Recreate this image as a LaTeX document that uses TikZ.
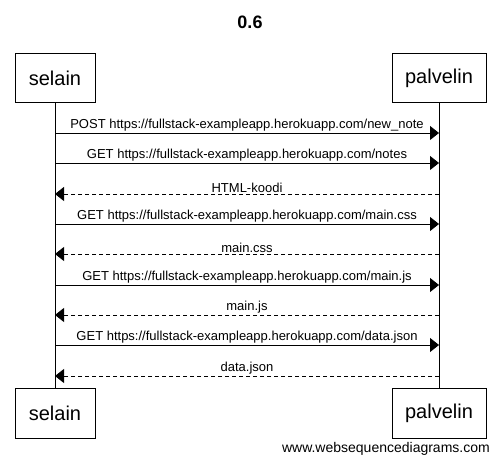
\documentclass[tikz,border=0pt]{standalone}
\usepackage{fontspec}
\setmainfont{Liberation Sans}
\usetikzlibrary{arrows.meta,positioning,calc}

\tikzset{
  actor/.style={draw, line width=1pt, minimum height=49pt, inner sep=0pt, font=\fontsize{20}{24}\selectfont},
  msg/.style={line width=0.8pt, -{Triangle[length=9pt,width=14pt]}},
  reply/.style={msg, dash pattern=on 4pt off 3pt},
  lbl/.style={midway, above, inner sep=1pt, font=\fontsize{13}{15}\selectfont}
}

\begin{document}
\begin{tikzpicture}[x=1pt, y=-1pt]
    \useasboundingbox (0,0) rectangle (501,462);

    % Title
    \node[font=\fontsize{18}{22}\selectfont\bfseries] (title) at (250,22) {0.6};

    % Participants
    \node[actor, minimum width=80pt] (selTop) at (55,78.5) {selain};
    \node[actor, minimum width=94pt] (palTop) at (439,78.5) {palvelin};
    \node[actor, minimum width=80pt] (selBot) at (55,413.5) {selain};
    \node[actor, minimum width=94pt] (palBot) at (439,413.5) {palvelin};

    % Lifelines
    \draw[line width=0.8pt] (selTop) -- (selBot);
    \draw[line width=0.8pt] (palTop) -- (palBot);

    % Messages
    \coordinate (s1) at (55,133);  \coordinate (p1) at (439,133);
    \coordinate (s2) at (55,163);  \coordinate (p2) at (439,163);
    \coordinate (s3) at (55,194);  \coordinate (p3) at (439,194);
    \coordinate (s4) at (55,224);  \coordinate (p4) at (439,224);
    \coordinate (s5) at (55,254);  \coordinate (p5) at (439,254);
    \coordinate (s6) at (55,285);  \coordinate (p6) at (439,285);
    \coordinate (s7) at (55,315);  \coordinate (p7) at (439,315);
    \coordinate (s8) at (55,345);  \coordinate (p8) at (439,345);
    \coordinate (s9) at (55,376);  \coordinate (p9) at (439,376);

    \draw[msg] (s1) -- (p1) node[lbl] {POST https://fullstack-exampleapp.herokuapp.com/new\_note};
    \draw[msg] (s2) -- (p2) node[lbl] {GET https://fullstack-exampleapp.herokuapp.com/notes};
    \draw[reply] (p3) -- (s3) node[lbl] {HTML-koodi};
    \draw[msg] (s4) -- (p4) node[lbl] {GET https://fullstack-exampleapp.herokuapp.com/main.css};
    \draw[reply] (p5) -- (s5) node[lbl] {main.css};
    \draw[msg] (s6) -- (p6) node[lbl] {GET https://fullstack-exampleapp.herokuapp.com/main.js};
    \draw[reply] (p7) -- (s7) node[lbl] {main.js};
    \draw[msg] (s8) -- (p8) node[lbl] {GET https://fullstack-exampleapp.herokuapp.com/data.json};
    \draw[reply] (p9) -- (s9) node[lbl] {data.json};

    % Watermark
    \node[anchor=base east, inner sep=0pt, font=\fontsize{14}{16}\selectfont] (mark) at (490,452) {www.websequencediagrams.com};
\end{tikzpicture}
\end{document}
